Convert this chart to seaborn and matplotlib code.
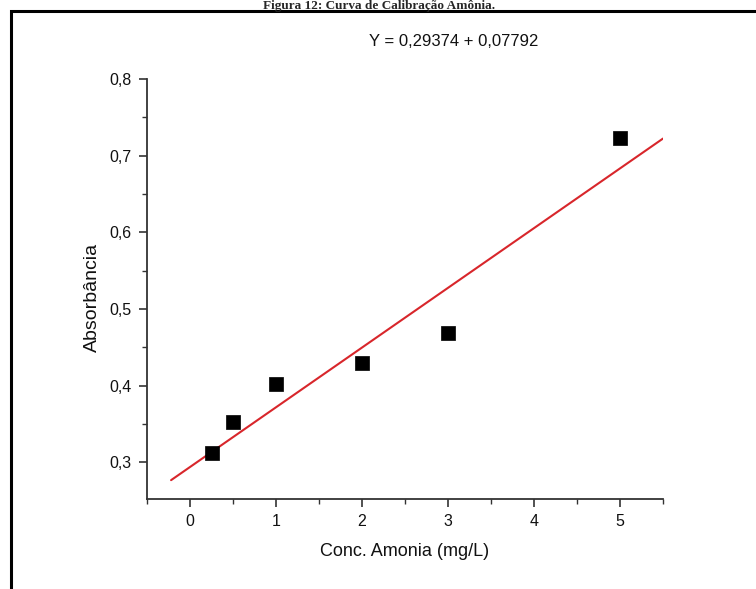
import numpy as np
import pandas as pd
import matplotlib
matplotlib.use("Agg")
import matplotlib.pyplot as plt
from matplotlib.ticker import MultipleLocator, FuncFormatter
from matplotlib.patches import Rectangle
import seaborn as sns

# Calibration data: ammonia concentration (mg/L) vs absorbance
concentracao = [0.25, 0.5, 1.0, 2.0, 3.0, 5.0]
absorbancia = [0.312, 0.352, 0.402, 0.429, 0.468, 0.723]

# Linear fit coefficients
intercepto = 0.29374
inclinacao = 0.07792
faixa_ajuste = [-0.22, 5.5]

equacao = "Y = 0,29374 + 0,07792"
titulo = "Figura 12: Curva de Calibração Amônia."

sns.set_style("ticks")
plt.rcParams["font.family"] = ["Liberation Sans", "DejaVu Sans"]

fig = plt.figure(figsize=(7.56, 5.89), dpi=100)
ax = fig.add_axes([147 / 756, 1 - 499 / 589, (663 - 147) / 756, (499 - 79) / 589])

df_pts = pd.DataFrame({"x": concentracao, "y": absorbancia})
xs = np.array(faixa_ajuste)
df_fit = pd.DataFrame({"x": xs, "y": intercepto + inclinacao * xs})

sns.lineplot(data=df_fit, x="x", y="y", ax=ax, color="#d8262b", linewidth=1.5, zorder=2)
sns.scatterplot(data=df_pts, x="x", y="y", ax=ax, marker="s", s=88, color="black",
                edgecolor="black", linewidth=0.5, zorder=3)

ax.set_xlim(-0.5, 5.5)
ax.set_ylim(0.252, 0.8)
ax.xaxis.set_major_locator(MultipleLocator(1))
ax.xaxis.set_minor_locator(MultipleLocator(0.5))
ax.yaxis.set_major_locator(MultipleLocator(0.1))
ax.yaxis.set_minor_locator(MultipleLocator(0.05))
ax.yaxis.set_major_formatter(FuncFormatter(lambda v, p: f"{v:.1f}".replace(".", ",")))
ax.xaxis.set_major_formatter(FuncFormatter(lambda v, p: f"{v:.0f}"))

spine_col = "#333333"
for s in ["top", "right"]:
    ax.spines[s].set_visible(False)
for s in ["left", "bottom"]:
    ax.spines[s].set_color(spine_col)
    ax.spines[s].set_linewidth(1.3)
ax.spines["left"].set_bounds(0.252, 0.8)

ax.tick_params(which="major", direction="out", length=6, width=1.2, color=spine_col,
               labelsize=11.5, labelcolor="#111111", pad=5)
ax.tick_params(which="minor", direction="out", length=3.5, width=1.0, color=spine_col)

ax.set_xlabel("Conc. Amonia (mg/L)", fontsize=13, color="#111111", va="center")
ax.set_ylabel("Absorbância", fontsize=14, color="#111111", va="center", ha="center")
ax.xaxis.set_label_coords(0.5, -(551 - 499) / 420)
ax.yaxis.set_label_coords((92 - 147) / 516, (499 - 297) / 420)

fig.text(454 / 756, 1 - 42 / 589, equacao, fontsize=12, ha="center", va="center",
         color="#111111")

# Surrounding frame and caption
fig.patches.append(Rectangle((11 / 756, -0.1), 1.2, 1 - 11 / 589 + 0.1,
                             transform=fig.transFigure, fill=False,
                             edgecolor="black", linewidth=2.2, zorder=0))
fig.text(379 / 756, 1 - 9.5 / 589, titulo, fontsize=9.5, fontweight="bold",
         family=["Liberation Serif", "DejaVu Serif"], ha="center", va="baseline")

fig.savefig("out.png", dpi=100)
